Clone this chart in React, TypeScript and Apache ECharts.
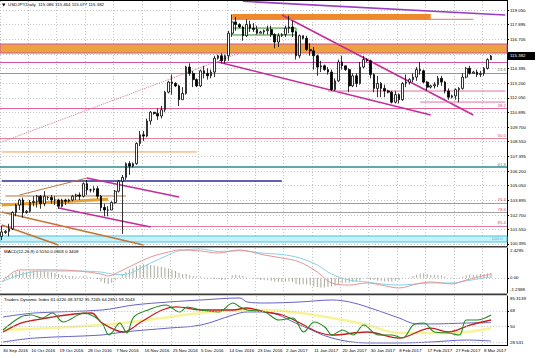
import React, { useEffect, useRef } from "react";
import * as echarts from "echarts";

const FONT = 'Tahoma, "Liberation Sans", Arial, sans-serif';
const FS = 4.4;

const dateLabels = ["30 Sep 2016", "10 Oct 2016", "19 Oct 2016", "28 Oct 2016", "7 Nov 2016", "16 Nov 2016", "25 Nov 2016", "5 Dec 2016", "14 Dec 2016", "23 Dec 2016", "2 Jan 2017", "11 Jan 2017", "20 Jan 2017", "30 Jan 2017", "8 Feb 2017", "17 Feb 2017", "27 Feb 2017", "8 Mar 2017"];
const BARS_PER_LABEL = 8;
const TOTAL_SLOTS = 143;

const priceTicks = [100.395, 101.55, 102.7, 103.895, 105.05, 106.2, 107.395, 108.55, 109.7, 110.895, 112.05, 113.2, 114.395, 115.55, 116.705, 117.895, 119.05];
const macdRange = [-1.2388, 2.4295];
const macdTicks = [0];
const tdiRange = [28.531, 85.3139];
const tdiTicks = [50, 68];
const tdiLevels = [32, 50, 68];

// [open, close, low, high]
const candles = [
  [101.0, 101.35, 100.7, 101.85], [101.3, 101.4, 101.2, 101.5], [101.4, 101.6, 101.0, 102.0], [101.6, 102.9, 101.5, 103.0], [102.9, 103.5, 102.6, 103.6],
  [103.5, 103.9, 103.1, 104.0], [103.9, 102.9, 102.5, 104.1], [102.9, 103.0, 102.8, 103.1], [103.0, 103.7, 102.9, 103.9], [103.7, 103.8, 103.4, 104.2],
  [103.8, 104.2, 103.3, 104.3], [104.2, 103.6, 103.2, 104.3], [103.6, 104.2, 103.4, 104.6], [104.1, 104.1, 103.9, 104.2], [104.1, 103.9, 103.6, 104.3],
  [103.9, 103.9, 103.5, 104.2], [103.9, 103.4, 103.2, 104.0], [103.4, 103.9, 103.3, 104.0], [103.9, 103.8, 103.5, 104.0], [103.8, 103.9, 103.7, 104.0],
  [103.9, 104.2, 103.8, 104.3], [104.2, 104.3, 103.9, 104.4], [104.3, 104.2, 103.9, 104.5], [104.2, 105.2, 104.1, 105.3], [105.2, 104.7, 104.3, 105.5],
  [104.7, 104.7, 104.5, 104.8], [104.7, 104.8, 104.5, 105.0], [104.8, 104.2, 104.0, 105.0], [104.2, 103.3, 103.0, 104.3], [103.3, 103.1, 102.6, 103.6],
  [103.1, 103.1, 102.6, 103.4], [103.1, 103.7, 103.1, 103.8], [103.7, 104.6, 103.6, 104.7], [104.6, 105.4, 104.5, 105.5], [105.4, 105.7, 101.2, 105.9],
  [105.7, 106.8, 105.5, 106.9], [106.8, 106.6, 105.9, 107.0], [106.6, 106.8, 106.5, 106.9], [106.8, 108.4, 106.7, 108.5], [108.4, 109.1, 108.2, 109.4],
  [109.1, 109.0, 108.6, 109.4], [109.0, 110.2, 108.9, 110.4], [110.2, 110.9, 109.9, 111.0], [110.9, 110.8, 110.7, 110.9], [110.8, 110.6, 110.3, 111.2],
  [110.6, 111.1, 110.4, 111.4], [111.1, 112.5, 110.9, 112.6], [112.5, 113.3, 112.4, 113.4], [113.3, 113.2, 112.3, 113.9], [113.2, 113.0, 112.9, 113.3],
  [113.0, 111.9, 111.4, 113.1], [111.9, 112.4, 111.9, 112.9], [112.4, 114.5, 112.3, 114.6], [114.5, 114.0, 113.8, 114.8], [114.0, 113.5, 112.9, 114.2],
  [113.5, 113.0, 112.9, 113.6], [113.0, 114.2, 112.9, 114.3], [114.2, 114.0, 113.6, 114.6], [114.0, 113.8, 113.5, 114.4], [113.8, 114.1, 113.6, 114.3],
  [114.1, 115.2, 113.7, 115.4], [115.2, 115.4, 115.1, 115.5], [115.4, 115.0, 114.8, 115.6], [115.0, 115.4, 114.8, 115.5], [115.4, 117.2, 115.0, 117.4],
  [117.2, 118.1, 116.9, 118.7], [118.1, 117.9, 117.4, 118.5], [117.9, 117.7, 117.6, 118.0], [117.7, 117.0, 116.6, 117.8], [117.0, 117.9, 116.9, 118.3],
  [117.9, 117.6, 117.3, 118.2], [117.6, 117.5, 117.3, 118.0], [117.5, 117.2, 117.1, 117.8], [117.2, 117.3, 117.2, 117.4], [117.3, 117.4, 117.1, 117.5],
  [117.4, 117.5, 117.1, 117.8], [117.5, 117.1, 116.9, 117.8], [117.1, 116.5, 116.0, 117.2], [116.5, 117.0, 116.1, 117.2], [117.0, 117.1, 116.9, 117.2],
  [117.1, 117.6, 116.9, 117.8], [117.6, 117.7, 117.2, 118.6], [117.7, 117.3, 116.9, 118.2], [117.3, 115.4, 115.1, 117.4], [115.4, 117.0, 115.2, 117.1],
  [117.0, 116.8, 116.7, 117.0], [116.8, 115.9, 115.8, 117.0], [115.9, 115.8, 115.4, 116.4], [115.8, 115.4, 114.3, 116.1], [115.4, 114.5, 113.8, 115.5],
  [114.5, 114.6, 114.1, 115.0], [114.6, 114.3, 114.2, 114.7], [114.3, 114.1, 113.9, 114.5], [114.1, 112.7, 112.6, 114.3], [112.7, 113.4, 112.6, 113.6],
  [113.4, 114.9, 113.3, 115.1], [114.9, 114.6, 114.3, 115.4], [114.6, 114.3, 114.2, 114.6], [114.3, 113.0, 112.5, 114.4], [113.0, 113.8, 112.9, 114.0],
  [113.8, 113.2, 112.9, 114.0], [113.2, 114.5, 113.1, 114.9], [114.5, 115.1, 114.4, 115.4], [115.1, 115.0, 114.9, 115.2], [115.0, 113.9, 113.6, 115.1],
  [113.9, 112.8, 112.5, 114.0], [112.8, 113.2, 112.1, 113.8], [113.2, 112.8, 112.1, 113.3], [112.8, 112.6, 112.1, 113.1], [112.6, 112.5, 112.4, 112.7],
  [112.5, 111.7, 111.6, 112.6], [111.7, 112.3, 111.6, 112.6], [112.3, 111.9, 111.6, 112.4], [111.9, 113.2, 111.8, 113.3], [113.2, 113.3, 112.9, 113.9],
  [113.3, 113.5, 113.1, 113.6], [113.5, 113.7, 113.3, 114.0], [113.7, 114.3, 113.4, 114.5], [114.3, 114.2, 113.9, 114.9], [114.2, 113.3, 113.2, 114.3],
  [113.3, 112.9, 112.6, 113.4], [112.9, 113.0, 112.8, 113.1], [113.0, 113.1, 112.8, 113.3], [113.1, 113.6, 112.9, 113.8], [113.6, 113.3, 113.0, 113.8],
  [113.3, 112.6, 112.4, 113.4], [112.6, 112.1, 111.9, 112.8], [112.1, 112.2, 112.0, 112.3], [112.2, 112.7, 111.9, 112.8], [112.7, 112.8, 111.7, 112.9],
  [112.8, 113.7, 112.7, 114.0], [113.7, 114.4, 113.6, 114.5], [114.4, 114.0, 113.9, 114.6], [114.0, 114.1, 114.0, 114.2], [114.1, 113.9, 113.7, 114.3],
  [113.9, 114.0, 113.7, 114.2], [114.0, 114.4, 113.8, 114.5], [114.4, 115.1, 114.3, 115.2], [115.086, 115.382, 115.077, 115.464],
];

const macdHist = [
  0.05, 0.1, 0.15, 0.3, 0.45, 0.55, 0.5, 0.5, 0.55, 0.6,
  0.6, 0.55, 0.55, 0.5, 0.45, 0.4, 0.3, 0.25, 0.2, 0.15,
  0.15, 0.1, 0.1, 0.15, 0.1, 0.05, 0.0, -0.1, -0.3, -0.45,
  -0.5, -0.4, -0.2, 0.05, 0.3, 0.5, 0.7, 0.8, 0.95, 1.05,
  1.1, 1.1, 1.05, 1.0, 0.95, 0.9, 0.85, 0.75, 0.65, 0.55,
  0.4, 0.3, 0.3, 0.2, 0.15, 0.1, 0.1, 0.05, -0.05, -0.1,
  -0.1, -0.1, -0.15, -0.15, 0.0, 0.2, 0.25, 0.2, 0.15, 0.05,
  0.0, -0.05, -0.1, -0.15, -0.2, -0.2, -0.25, -0.3, -0.35, -0.35,
  -0.3, -0.3, -0.35, -0.5, -0.55, -0.5, -0.55, -0.6, -0.7, -0.75,
  -0.8, -0.8, -0.75, -0.7, -0.65, -0.55, -0.45, -0.4, -0.4, -0.35,
  -0.3, -0.2, -0.1, -0.1, -0.15, -0.2, -0.25, -0.25, -0.3, -0.3,
  -0.3, -0.25, -0.2, -0.1, 0.0, 0.05, 0.15, 0.25, 0.35, 0.35,
  0.3, 0.25, 0.25, 0.2, 0.2, 0.1, 0.0, -0.05, 0.0, 0.05,
  0.1, 0.2, 0.25, 0.25, 0.25, 0.3, 0.3, 0.35, 0.4,
];
const macdMain = [[0, -0.34], [5, 0.64], [14, 0.65], [22, 0.55], [28, 0.31], [30, 0.15], [33, 0.47], [37, 1.04], [42, 1.7], [47, 2.1], [50, 2.27], [56, 2.19], [61, 2.02], [67, 2.27], [74, 1.86], [79, 1.62], [84, 1.29], [89, 0.47], [93, -0.42], [98, -0.59], [103, -0.42], [107, -0.59], [112, -0.83], [117, -0.5], [121, -0.34], [127, -0.5], [131, -0.18], [138, 0.31]];
const macdSignal = [[0, -0.34], [5, 0.23], [11, 0.55], [22, 0.55], [28, 0.47], [31, 0.31], [34, 0.25], [37, 0.47], [42, 1.2], [47, 1.86], [50, 2.2], [56, 2.35], [61, 2.15], [67, 2.2], [74, 2.0], [79, 1.9], [84, 1.62], [89, 1.04], [93, 0.31], [98, -0.18], [103, -0.34], [107, -0.5], [112, -0.59], [117, -0.5], [121, -0.42], [127, -0.42], [131, -0.25], [138, 0.08]];

const tdiUpper = [[0, 61.0], [9, 65.6], [28, 69.1], [37, 74.9], [47, 78.4], [56, 80.7], [67, 83.0], [69, 78.4], [74, 77.2], [84, 78.4], [93, 80.7], [98, 78.4], [103, 72.6], [112, 59.8], [117, 52.9], [121, 52.9], [131, 54.0], [138, 54.5]];
const tdiLower = [[0, 32.0], [9, 36.6], [28, 40.1], [34, 43.6], [47, 48.2], [56, 51.7], [65, 63.3], [69, 66.8], [74, 66.8], [84, 51.7], [93, 36.6], [103, 30.9], [112, 30.9], [121, 32.0], [131, 34.3], [138, 33.2]];
const tdiBase = [[0, 45.9], [19, 49.4], [34, 54.0], [47, 61.0], [56, 65.6], [69, 69.1], [74, 69.1], [84, 65.6], [93, 59.8], [103, 51.7], [112, 42.4], [121, 42.4], [131, 43.6], [138, 48.2]];
const tdiSignal = [[0, 43.6], [5, 54.0], [9, 57.5], [18, 63.3], [25, 65.6], [28, 54.0], [34, 43.6], [39, 55.2], [45, 69.1], [49, 72.6], [56, 69.1], [65, 69.1], [69, 71.4], [74, 66.8], [79, 63.3], [84, 54.0], [89, 43.6], [93, 40.1], [103, 43.6], [112, 36.6], [121, 48.2], [126, 43.6], [132, 51.7], [138, 57.5]];
const tdiRsi = [[0, 45.9], [5, 61.0], [8, 63.3], [11, 59.8], [14, 65.6], [17, 55.2], [23, 65.6], [26, 61.0], [28, 54.0], [30, 40.1], [31, 43.6], [33, 54.0], [35, 42.4], [37, 61.0], [41, 69.1], [46, 74.9], [50, 66.8], [52, 72.6], [56, 69.1], [61, 66.8], [65, 77.2], [67, 72.6], [69, 69.1], [74, 66.8], [78, 57.5], [82, 59.8], [85, 43.6], [88, 55.2], [91, 49.4], [93, 40.1], [96, 45.9], [99, 40.1], [102, 51.7], [106, 40.1], [110, 40.1], [113, 36.6], [116, 51.7], [119, 54.0], [122, 43.6], [126, 42.4], [129, 40.1], [131, 57.5], [134, 57.5], [138, 63.3]];

// chart objects (bar index, price)
const purpleTopLine = [[68, 119.75], [142, 118.65]];
const descTrendLine = [[79, 118.65], [133, 110.68]];
const lowerChannelLine = [[61, 114.9], [121, 110.68]];
const fibDiagonal = [[0, 108.52], [67, 115.62]];
const topZoneLine = [[65, 118.31], [133, 118.31]];
const level91 = [[92, 112.59], [142, 112.59]];
const level102 = [[118, 111.71], [142, 111.71]];
const orangeLevel = [[0, 107.73], [55, 107.73]];
const blueLevel = [[0, 105.41], [79, 105.41]];
const wedgeRise = [[5, 104.3], [24, 105.65]];
const wedgeFallA = [[24, 105.65], [50, 104.14]];
const wedgeFallB = [[16, 103.26], [42, 101.75]];
const brownFlat = [[1, 104.22], [35, 104.22]];
const orangeTrend = [[0, 103.5], [30, 103.96]];
const brownDescA = [[0, 101.91], [16, 100.31]];
const brownDescB = [[0, 102.94], [40, 100.31]];
const greenBox = [[65, 117.61], [83, 117.61], [83, 117.06], [65, 117.06], [65, 117.61]];

const mainZone = [115.62, 116.34];
const topZone = { from: 65, to: 121, low: 118.31, high: 118.73 };
const bottomZone = [100.55, 101.03];
const fibLevels = [
  { value: 114.9, label: "" },
  { value: 114.03, label: "23.6" },
  { value: 111.2, label: "38.2" },
  { value: 108.84, label: "50.0" },
  { value: 106.53, label: "61.8" },
  { value: 103.66, label: "76.4" },
  { value: 102.94, label: "78.6" },
  { value: 101.83, label: "85.4" },
];
const fibColors = ["#c852b0", "#58aebe", "#e0649a", "#e0849a", "#2e8a8c", "#e07ca0", "#a0a0a0", "#e07ca0"];

const titleText = "USDJPY,Daily  115.086 115.464 115.077 115.382";
const macdText = "MACD(12,26,9) 0.5150 0.0803 0.3408";
const tdiText = "Traders Dynamic Index 61.0220 48.3732 35.7245 64.2851 59.2043";

export default function App() {
  const ref = useRef<HTMLDivElement>(null);
  useEffect(() => {
    document.body.style.margin = "0";
    const chart = echarts.init(ref.current!, null, { renderer: "svg" });
    const cats = Array.from({ length: TOTAL_SLOTS }, (_, i) => String(i));
    const every = (i: number) => i % BARS_PER_LABEL === 0;
    const gridLine = { color: "#c4c4c4", type: [1, 2] as any, width: 1 };

    const mkX = (gi: number, labels: boolean) => ({
      type: "category",
      gridIndex: gi,
      data: cats,
      boundaryGap: true,
      axisLine: { show: false },
      axisTick: { show: false },
      axisLabel: labels
        ? {
            show: true,
            interval: (i: number) => every(i),
            formatter: (_v: string, i: number) => dateLabels[i / BARS_PER_LABEL] ?? "",
            fontSize: FS,
            fontFamily: FONT,
            color: "#000",
            align: "left",
            margin: 3,
          }
        : { show: false },
      splitLine: { show: true, interval: (i: number) => every(i), lineStyle: gridLine },
    });

    const mkY = (gi: number, min: number, max: number, ticks: number[], fmt: (v: number) => string) => ({
      type: "value",
      gridIndex: gi,
      position: "right",
      min,
      max,
      axisLine: { show: true, lineStyle: { color: "#000", width: 1 } },
      axisTick: { show: true, customValues: ticks, length: 2, lineStyle: { color: "#000" } },
      axisLabel: { show: true, customValues: ticks, formatter: fmt, fontSize: FS, fontFamily: FONT, color: "#000", margin: 3 },
      splitLine: { show: false },
    });

    const seg = (data: number[][], color: string, width: number, type: any = "solid", z = 3) => ({
      type: "line",
      xAxisIndex: 0,
      yAxisIndex: 0,
      data,
      symbol: "none",
      silent: true,
      clip: true,
      z,
      lineStyle: { color, width, type },
    });

    const sparse = (data: number[][], gi: number, color: string, width: number, extra: any = {}) => ({
      type: "line",
      xAxisIndex: gi,
      yAxisIndex: gi,
      data,
      symbol: "none",
      silent: true,
      smooth: 0.35,
      lineStyle: { color, width },
      ...extra,
    });

    const option: any = {
      animation: false,
      backgroundColor: "#fff",
      grid: [
        { left: 0, width: 507, top: 1, height: 245 },
        { left: 0, width: 507, top: 248, height: 45 },
        { left: 0, width: 507, top: 296, height: 49 },
      ],
      xAxis: [mkX(0, false), mkX(1, false), mkX(2, true)],
      yAxis: [
        mkY(0, 100.23, 119.77, priceTicks, (v) => v.toFixed(3)),
        mkY(1, macdRange[0], macdRange[1], macdTicks, (v) => (v === 0 ? "0.00" : v.toFixed(4))),
        mkY(2, tdiRange[0], tdiRange[1], tdiTicks, (v) => String(v)),
      ],
      series: [
        {
          type: "candlestick",
          xAxisIndex: 0,
          yAxisIndex: 0,
          data: candles,
          barWidth: 2.2,
          z: 5,
          itemStyle: { color: "#ffffff", color0: "#000000", borderColor: "#000000", borderColor0: "#000000", borderWidth: 0.8 },
          markArea: {
            silent: true,
            z: 1,
            label: { show: false },
            data: [
              [{ yAxis: mainZone[1], itemStyle: { color: "#eca23e", borderColor: "#d050a8", borderWidth: 1 } }, { yAxis: mainZone[0] }],
              [{ xAxis: String(topZone.from), yAxis: topZone.high, itemStyle: { color: "#ef8a2c" } }, { xAxis: String(topZone.to), yAxis: topZone.low }],
              [{ yAxis: bottomZone[1], itemStyle: { color: "#c8f2fb", borderColor: "#40c4e4", borderWidth: 1 }, label: { show: true, position: "insideRight", formatter: "100.0", fontSize: FS, fontFamily: FONT, color: "#40b8d8" } }, { yAxis: bottomZone[0] }],
            ],
          },
          markLine: {
            silent: true,
            symbol: ["none", "none"],
            z: 2,
            label: { show: false },
            data: [
              ...priceTicks.map((v) => ({ yAxis: v, lineStyle: gridLine, label: { show: false } })),
              ...fibLevels.map((f, i) => ({
                yAxis: f.value,
                lineStyle: { color: fibColors[i], width: i === 4 ? 1.5 : 1, type: "solid" },
                label: { show: f.label !== "", position: "insideEndTop", formatter: f.label, fontSize: FS, fontFamily: FONT, color: i === 1 || i === 4 ? "#808060" : "#d05070", distance: 1 },
              })),
            ],
          },
        },
        seg(purpleTopLine, "#9a3cc4", 1.6),
        seg(descTrendLine, "#c42c98", 1.6),
        seg(lowerChannelLine, "#c42c98", 1.6),
        seg(fibDiagonal, "#d07a8a", 1, "dotted"),
        seg(topZoneLine, "#e07a50", 1),
        seg(level91, "#e070a0", 1),
        seg(level102, "#e070a0", 1),
        seg(orangeLevel, "#e8a050", 1),
        seg(blueLevel, "#2c2c96", 1.5),
        seg(wedgeRise, "#b87844", 1),
        seg(wedgeFallA, "#c42c98", 1.5),
        seg(wedgeFallB, "#c42c98", 1.5),
        seg(brownFlat, "#b87844", 1),
        seg(orangeTrend, "#eaa030", 3),
        seg(brownDescA, "#c47434", 1.5),
        seg(brownDescB, "#c47434", 1.5),
        seg(greenBox, "#2a902a", 1),
        {
          type: "bar",
          xAxisIndex: 1,
          yAxisIndex: 1,
          data: macdHist,
          barWidth: 1,
          silent: true,
          itemStyle: { color: "#a8a898" },
          markLine: {
            silent: true,
            symbol: ["none", "none"],
            label: { show: false },
            data: [{ yAxis: 0, lineStyle: gridLine }],
          },
        },
        sparse(macdSignal, 1, "#86d2e6", 1),
        sparse(macdMain, 1, "#e49494", 1),
        sparse(tdiBase, 2, "rgba(242,238,110,0.7)", 2.5, {
          markLine: {
            silent: true,
            symbol: ["none", "none"],
            label: { show: false },
            data: tdiLevels.map((v) => ({ yAxis: v, lineStyle: gridLine })),
          },
        }),
        sparse(tdiUpper, 2, "#6464c8", 1),
        sparse(tdiLower, 2, "#6464c8", 1),
        sparse(tdiSignal, 2, "#c41e1e", 1.3),
        sparse(tdiRsi, 2, "#1e8c1e", 1.1),
      ],
    };
    chart.setOption(option);

    const lastClose = candles[candles.length - 1][1];
    const py = chart.convertToPixel({ yAxisIndex: 0 } as any, lastClose) as number;
    const pMacdMax = chart.convertToPixel({ yAxisIndex: 1 } as any, macdRange[1]) as number;
    const pMacdMin = chart.convertToPixel({ yAxisIndex: 1 } as any, macdRange[0]) as number;
    const pTdiMax = chart.convertToPixel({ yAxisIndex: 2 } as any, tdiRange[1]) as number;
    const pTdiMin = chart.convertToPixel({ yAxisIndex: 2 } as any, tdiRange[0]) as number;
    const textStyle = { fontSize: FS, fontFamily: FONT, fill: "#000" };
    const axisText = (y: number, text: string, va: string) => ({
      type: "text", x: 510, y, z: 55, style: { ...textStyle, text, verticalAlign: va },
    });
    chart.setOption({
      graphic: [
        { type: "rect", shape: { x: 0, y: 246, width: 507, height: 1.6 }, style: { fill: "#3a3a3a" }, z: 50 },
        { type: "rect", shape: { x: 0, y: 293.6, width: 507, height: 1.6 }, style: { fill: "#3a3a3a" }, z: 50 },
        { type: "rect", shape: { x: 0, y: 345, width: 508, height: 1 }, style: { fill: "#000" }, z: 50 },
        { type: "rect", shape: { x: 0, y: 0, width: 508, height: 1 }, style: { fill: "#000" }, z: 50 },
        { type: "polygon", shape: { points: [[2, 3.5], [5.5, 3.5], [3.75, 6.5]] }, style: { fill: "#000" }, z: 50 },
        { type: "text", x: 8, y: 2.6, style: { ...textStyle, text: titleText }, z: 50 },
        { type: "text", x: 4, y: 249.5, style: { ...textStyle, text: macdText }, z: 50 },
        { type: "text", x: 4, y: 297.2, style: { ...textStyle, text: tdiText }, z: 50 },
        axisText(pMacdMax + 0.3, macdRange[1].toFixed(4), "top"),
        axisText(pMacdMin - 1.2, macdRange[0].toFixed(4), "bottom"),
        axisText(pTdiMax + 0.6, String(tdiRange[1]), "top"),
        axisText(pTdiMin - 0.3, String(tdiRange[0]), "bottom"),
        { type: "rect", shape: { x: 508, y: py - 4, width: 27, height: 8 }, style: { fill: "#000" }, z: 60 },
        { type: "text", x: 510, y: py - 2.6, style: { ...textStyle, fill: "#fff", text: lastClose.toFixed(3) }, z: 61 },
      ],
    });
    return () => chart.dispose();
  }, []);
  return <div ref={ref} style={{ position: "absolute", left: 0, top: 0, width: 536, height: 358 }} />;
}
